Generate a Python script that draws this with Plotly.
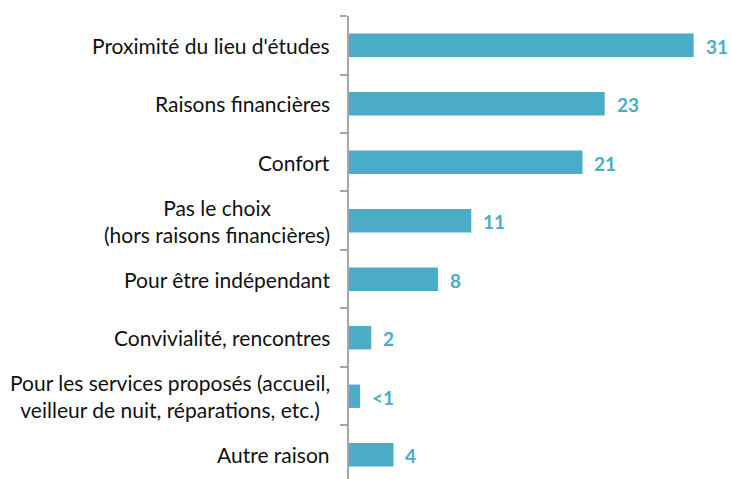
import plotly.graph_objects as go

categories = [
    "Proximité du lieu d'études",
    "Raisons financières",
    "Confort",
    "Pas le choix<br>(hors raisons financières)",
    "Pour être indépendant",
    "Convivialité, rencontres",
    "Pour les services proposés (accueil,<br>veilleur de nuit, réparations, etc.)",
    "Autre raison",
]
values = [31, 23, 21, 11, 8, 2, 1, 4]
value_labels = ["31", "23", "21", "11", "8", "2", "<1", "4"]

BAR = "#4BACC6"
FONT = "Source Sans Pro, Lato, Noto Sans, sans-serif"

fig = go.Figure(go.Bar(
    x=values, y=categories, orientation="h",
    marker=dict(color=BAR, line=dict(width=0)),
    width=0.4, hoverinfo="skip",
))

for c, v, t in zip(categories, values, value_labels):
    fig.add_annotation(x=v, y=c, xref="x", yref="y", text=t, showarrow=False,
                       xanchor="left", xshift=10, yshift=-1,
                       font=dict(family=FONT, size=19, color=BAR, weight="bold"))
    fig.add_annotation(x=0, y=c, xref="paper", yref="y", text=c, showarrow=False,
                       xanchor="right", align="center", xshift=-17,
                       font=dict(family=FONT, size=21, color="#111111"))

fig.update_layout(
    width=731, height=479,
    margin=dict(l=349, r=4, t=16, b=0, autoexpand=False),
    paper_bgcolor="white", plot_bgcolor="white",
    showlegend=False,
    bargap=0.6,
    xaxis=dict(range=[0, 34], visible=False, fixedrange=True),
    yaxis=dict(type="category", range=[7.415, -0.5], showticklabels=False,
               ticks="outside", ticklen=7, tickcolor="#A6A6A6", tickwidth=1.5,
               tickson="boundaries", showline=True, linecolor="#A6A6A6",
               linewidth=1.5, showgrid=False, zeroline=False, fixedrange=True,
               automargin=False),
)

fig.write_html("out.html", config={"displayModeBar": False},
               post_script="document.body.style.margin='0';")
